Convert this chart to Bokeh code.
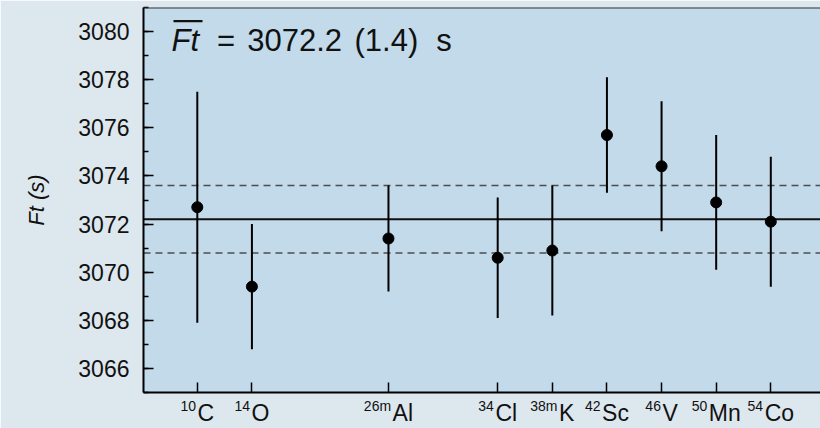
from bokeh.plotting import figure
from bokeh.models import (Range1d, Span, Label, Arrow, FixedTicker, SingleIntervalTicker,
                          ColumnDataSource, LinearAxis)
from bokeh.embed import file_html
from bokeh.resources import INLINE

# ---- data ----
z_numbers = [6, 8, 13, 17, 19, 21, 23, 25, 27]
mass_labels = ["10", "14", "26m", "34", "38m", "42", "46", "50", "54"]
element_labels = ["C", "O", "Al", "Cl", "K", "Sc", "V", "Mn", "Co"]
ft_values = [3072.7, 3069.4, 3071.4, 3070.6, 3070.9, 3075.7, 3074.4, 3072.9, 3072.1]
ft_errors = [4.8, 2.6, 2.2, 2.5, 2.7, 2.4, 2.7, 2.8, 2.7]
ft_mean = 3072.2
ft_mean_err = 1.4
y_tick_interval = 2

# ---- style ----
OUTER_BG = "#dde7ee"
PLOT_BG = "#c3daea"
FONT = "Liberation Sans"
TXT = "#111111"

W, H = 820, 428
BL, BR, BT, BB = 143, 0, 7, 36
x_start, x_end = 4.03, 28.82
y_start, y_end = 3065, 3081

p = figure(width=W, height=H,
           x_range=Range1d(x_start, x_end), y_range=Range1d(y_start, y_end),
           output_backend="svg", toolbar_location=None,
           min_border_left=BL, min_border_right=BR, min_border_top=BT, min_border_bottom=BB,
           background_fill_color=PLOT_BG, border_fill_color=OUTER_BG,
           outline_line_color=None)
p.xgrid.visible = False
p.ygrid.visible = False

# y axis
p.yaxis.ticker = SingleIntervalTicker(interval=y_tick_interval, num_minor_ticks=2)
p.yaxis.major_label_text_font = FONT
p.yaxis.major_label_text_font_size = "23px"
p.yaxis.major_label_text_color = TXT
p.yaxis.major_label_standoff = 14
p.yaxis.major_tick_in = 10
p.yaxis.major_tick_out = 0
p.yaxis.minor_tick_in = 5
p.yaxis.minor_tick_out = 0
p.yaxis.major_tick_line_width = 1.5
p.yaxis.minor_tick_line_width = 1.5
p.yaxis.major_tick_line_color = "black"
p.yaxis.minor_tick_line_color = "black"
p.yaxis.axis_line_width = 2
p.yaxis.axis_line_color = "black"
p.yaxis.axis_label = "Ft (s)"
p.yaxis.axis_label_text_font = FONT
p.yaxis.axis_label_text_font_style = "italic"
p.yaxis.axis_label_text_font_size = "22px"
p.yaxis.axis_label_text_color = TXT
p.yaxis.axis_label_standoff = 26

# main x axis: tick marks only
p.xaxis.ticker = FixedTicker(ticks=z_numbers, minor_ticks=[])
p.xaxis.major_label_text_font_size = "1px"
p.xaxis.major_label_text_alpha = 0
p.xaxis.major_label_standoff = 0
p.xaxis.major_tick_in = 10
p.xaxis.major_tick_out = 0
p.xaxis.major_tick_line_width = 1.5
p.xaxis.major_tick_line_color = "black"
p.xaxis.minor_tick_line_color = None
p.xaxis.axis_line_width = 2
p.xaxis.axis_line_color = "black"

# tick labels "^{A}X": superscript mass number + element symbol, centred as a whole on the tick
WIDTHS = {"0": 556, "1": 556, "2": 556, "3": 556, "4": 556, "5": 556, "6": 556,
          "7": 556, "8": 556, "9": 556, "m": 833, "C": 722, "O": 778, "A": 667,
          "l": 222, "K": 667, "S": 667, "c": 500, "V": 667, "M": 833, "n": 556, "o": 556}


def text_w(s, size):
    return sum(WIDTHS.get(c, 556) for c in s) / 1000.0 * size


SUP, MAIN, GAP = 14, 23, 1.5
ppu = (W - BL - BR) / (x_end - x_start)   # pixels per x unit
sup_pos, el_pos = [], []
for zz, m, el in zip(z_numbers, mass_labels, element_labels):
    sw, ew = text_w(m, SUP), text_w(el, MAIN)
    total = sw + GAP + ew
    sup_pos.append(zz + (-total / 2 + sw / 2) / ppu)
    el_pos.append(zz + (-total / 2 + sw + GAP + ew / 2) / ppu)


def label_axis(ticks, labels, size, standoff):
    ax = LinearAxis(ticker=FixedTicker(ticks=ticks, minor_ticks=[]),
                    major_label_overrides={t: s for t, s in zip(ticks, labels)},
                    major_label_text_font=FONT, major_label_text_font_size=f"{size}px",
                    major_label_text_color=TXT, major_label_standoff=standoff,
                    axis_line_color=None, major_tick_line_color=None,
                    minor_tick_line_color=None, major_tick_in=0, major_tick_out=0)
    p.add_layout(ax, "below")


label_axis(el_pos, element_labels, MAIN, 7)
label_axis(sup_pos, mass_labels, SUP, -31)

# top border
p.add_layout(Span(location=y_end, dimension="width", line_color="#333333", line_width=2))

# mean and uncertainty lines
p.add_layout(Span(location=ft_mean, dimension="width", line_color="#111111",
                  line_width=1.8, level="underlay"))
for s in (-1, 1):
    p.add_layout(Span(location=ft_mean + s * ft_mean_err, dimension="width",
                      line_color="#4d4d4d", line_width=1.5, line_dash="7 5",
                      level="underlay"))

src = ColumnDataSource(dict(
    z=z_numbers, ft=ft_values,
    lo=[v - e for v, e in zip(ft_values, ft_errors)],
    hi=[v + e for v, e in zip(ft_values, ft_errors)],
))
p.segment(x0="z", y0="lo", x1="z", y1="hi", source=src, line_color="black", line_width=2)
p.scatter(x="z", y="ft", source=src, size=11, color="black")

# ---- in-plot title: overline(F)t = 3072.2(1.4) s ----
TITLE_Y = 352.3
TS = "31px"
p.add_layout(Arrow(x_start=30, y_start=371.3, x_end=59, y_end=371.3,
                   start_units="screen", end_units="screen", start=None, end=None,
                   line_color=TXT, line_width=2.3))
p.add_layout(Label(x=28, y=TITLE_Y, x_units="screen", y_units="screen", text="Ft",
                   text_align="left", text_baseline="alphabetic", text_font=FONT,
                   text_font_style="italic", text_font_size=TS, text_color=TXT))
for xx, t in [(73.4, "="), (103.7, "3072.2"), (211, "(1.4)"), (292.7, "s")]:
    p.add_layout(Label(x=xx, y=TITLE_Y, x_units="screen", y_units="screen", text=t,
                       text_align="left", text_baseline="alphabetic", text_font=FONT,
                       text_font_size=TS, text_color=TXT))

open("out.html", "w").write(file_html(p, INLINE))
